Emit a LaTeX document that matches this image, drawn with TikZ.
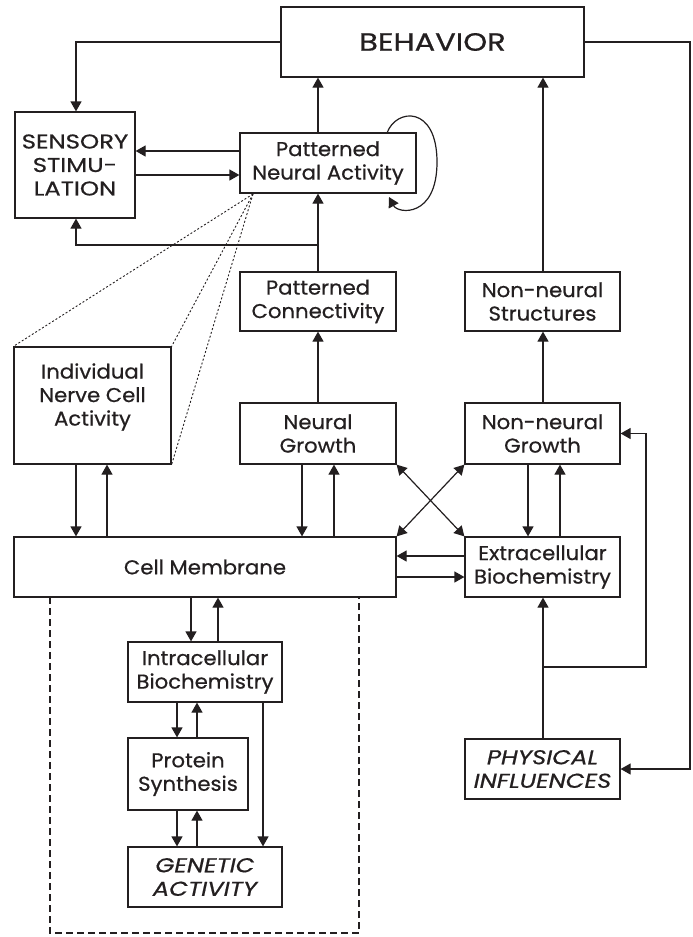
\documentclass[tikz,border=0pt]{standalone}
\usepackage{fontspec}
\usepackage{graphicx}
\setmainfont{Poppins}[FakeBold=0.6,FakeStretch=1.06]
\usetikzlibrary{arrows.meta,calc}
\definecolor{ink}{HTML}{231F20}
% capitals are set a little wider
\newcommand\widecaps[1]{\scalebox{1.15}[1]{#1}}
\begin{document}
\begin{tikzpicture}[x=1pt,y=-1pt,
  box/.style={draw=ink, line width=1.2pt, inner sep=0pt, align=center, text=ink,
              font=\fontsize{20}{23.5}\selectfont},
  lbl/.style={inner sep=0pt, align=center, text=ink, font=\fontsize{20}{23.5}\selectfont},
  wire/.style={draw=ink, line width=1.2pt},
  arr/.style={wire, -{Triangle[length=10pt,width=11pt]}},
  darr/.style={wire, {Triangle[length=10pt,width=11pt]}-{Triangle[length=10pt,width=11pt]}},
  dots/.style={draw=ink, line width=0.9pt, dash pattern=on 2pt off 2pt},
  dashbox/.style={draw=ink, line width=1.1pt, dash pattern=on 7pt off 4pt},
]
\useasboundingbox (0,0) rectangle (693,937);

% boxes
\node[box, minimum width=303, minimum height=70, font=\fontsize{25}{30}\selectfont] (beh) at (432.5,42) {\widecaps{BEHAVIOR}};
\node[box, minimum width=120, minimum height=106] (sens) at (75,165) {\widecaps{SENSORY}\\\widecaps{STIMU-}\\\widecaps{LATION}};
\node[box, minimum width=176, minimum height=60] (pna) at (328,163) {Patterned\\Neural Activity};
\node[box, minimum width=156, minimum height=59] (pcon) at (318,301.5) {Patterned\\Connectivity};
\node[box, minimum width=155, minimum height=59] (nns) at (542.5,301.5) {Non-neural\\Structures};
\node[box, minimum width=157, minimum height=117] (ind) at (92.5,405.5) {};
\node[lbl] (indtxt) at (92.5,397) {Individual\\Nerve Cell\\Activity};
\node[box, minimum width=156, minimum height=61] (ng) at (318,433.5) {Neural\\Growth};
\node[box, minimum width=155, minimum height=61] (nng) at (542.5,433.5) {Non-neural\\Growth};
\node[box, minimum width=382, minimum height=60] (cm) at (205,567) {Cell Membrane};
\node[box, minimum width=155, minimum height=60] (ecb) at (542.5,567) {Extracellular\\Biochemistry};
\node[box, minimum width=154, minimum height=60] (icb) at (205,672) {Intracellular\\Biochemistry};
\node[box, minimum width=120, minimum height=72] (ps) at (188,774) {Protein\\Synthesis};
\node[box, minimum width=154, minimum height=60] (ga) at (205,877) {\widecaps{\itshape GENETIC}\\\widecaps{\itshape ACTIVITY}};
\node[box, minimum width=155, minimum height=60] (phy) at (542.5,769) {\widecaps{\itshape PHYSICAL}\\\widecaps{\itshape INFLUENCES}};

% column and row guides
\coordinate (x76) at (76,0);
\coordinate (x107) at (107,0);
\coordinate (x318) at (318,0);
\coordinate (x302) at (302,0);
\coordinate (x334) at (334,0);
\coordinate (x528) at (528,0);
\coordinate (x560) at (560,0);
\coordinate (x543) at (543,0);
\coordinate (x690) at (690,0);
\coordinate (x646) at (646,0);
\coordinate (x191) at (191,0);
\coordinate (x218) at (218,0);
\coordinate (x177) at (177,0);
\coordinate (x197) at (197,0);
\coordinate (x263) at (263,0);
\coordinate (y151) at (0,151);
\coordinate (y175) at (0,175);
\coordinate (y245) at (0,245);
\coordinate (y556) at (0,556);
\coordinate (y577) at (0,577);
\coordinate (y667) at (0,667);
\coordinate (loopA) at (387,133);
\coordinate (loopB) at (389,197);
\coordinate (dotO) at (253,194);

% behavior loop-backs
\draw[arr] (beh.west) -| (sens.north -| x76);
\draw[arr] (beh.east) -| (x690 |- phy.east) -- (phy.east);

% patterned neural activity
\draw[arr] (pna.north -| x318) -- (beh.south -| x318);
\draw[arr] (pna.west |- y151) -- (sens.east |- y151);
\draw[arr] (sens.east |- y175) -- (pna.west |- y175);
\draw[arr] (loopA) .. controls (396,108) and (437,105) .. (437,162)
           .. controls (437,218) and (398,214) .. (loopB);
\draw[arr] (pcon.north -| x318) -- (pna.south -| x318);
\draw[arr] (x318 |- y245) -| (sens.south -| x76);

% dotted projection onto single cell activity
\draw[dots] (dotO) -- (ind.north west);
\draw[dots] (dotO) -- (ind.north east);
\draw[dots] (dotO) -- (ind.south east);

% growth to structure
\draw[arr] (ng.north -| x318) -- (pcon.south -| x318);
\draw[arr] (nng.north -| x543) -- (nns.south -| x543);
\draw[arr] (nns.north -| x543) -- (beh.south -| x543);

% cell activity and membrane
\draw[arr] (ind.south -| x76) -- (cm.north -| x76);
\draw[arr] (cm.north -| x107) -- (ind.south -| x107);
\draw[arr] (ng.south -| x302) -- (cm.north -| x302);
\draw[arr] (cm.north -| x334) -- (ng.south -| x334);
\draw[arr] (nng.south -| x528) -- (ecb.north -| x528);
\draw[arr] (ecb.north -| x560) -- (nng.south -| x560);
\draw[darr] (ng.south east) -- (ecb.north west);
\draw[darr] (nng.south west) -- (cm.north east);
\draw[arr] (ecb.west |- y556) -- (cm.east |- y556);
\draw[arr] (cm.east |- y577) -- (ecb.west |- y577);

% physical influences
\draw[arr] (phy.north -| x543) -- (ecb.south -| x543);
\draw[arr] (x543 |- y667) -| (x646 |- nng.east) -- (nng.east);

% inside the cell
\draw[dashbox] (50,597) -- (50,933) -- (359,933) -- (359,597);
\draw[arr] (cm.south -| x191) -- (icb.north -| x191);
\draw[arr] (icb.north -| x218) -- (cm.south -| x218);
\draw[arr] (icb.south -| x177) -- (ps.north -| x177);
\draw[arr] (ps.north -| x197) -- (icb.south -| x197);
\draw[arr] (ps.south -| x177) -- (ga.north -| x177);
\draw[arr] (ga.north -| x197) -- (ps.south -| x197);
\draw[arr] (icb.south -| x263) -- (ga.north -| x263);
\end{tikzpicture}
\end{document}
